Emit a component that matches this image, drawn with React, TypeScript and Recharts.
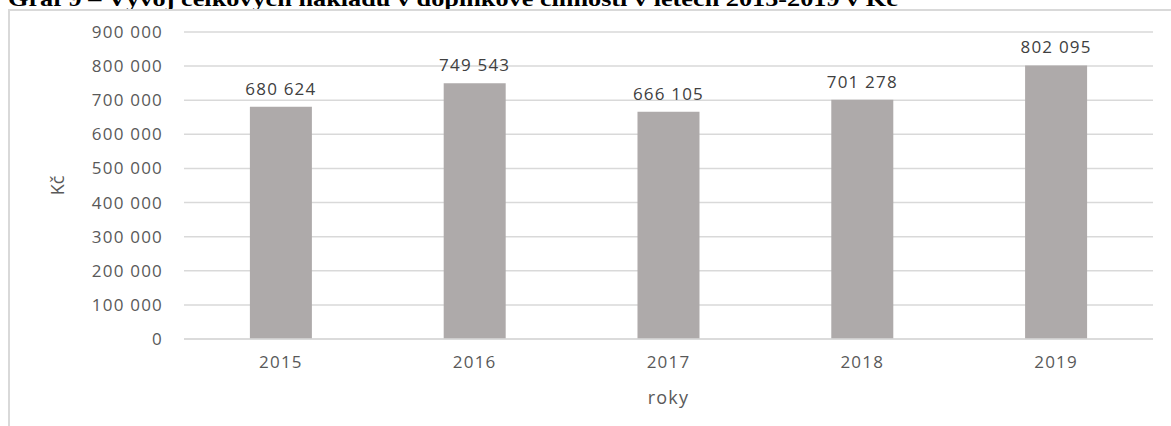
import React from 'react';
import { BarChart, Bar, XAxis, YAxis, CartesianGrid, LabelList } from 'recharts';

const years = ['2015', '2016', '2017', '2018', '2019'];
const costs = [680624, 749543, 666105, 701278, 802095];
const yTicks = [0, 100000, 200000, 300000, 400000, 500000, 600000, 700000, 800000, 900000];
const titleText = 'Graf 9 – Vývoj celkových nákladů v doplňkové činnosti v letech 2015-2019 v Kč';
const yLabel = 'Kč';
const xLabel = 'roky';

const data = years.map((y, i) => ({ year: y, value: costs[i] }));

const fmt = (v: number) => {
  const s = String(Math.round(v));
  return s.replace(/\B(?=(\d{3})+(?!\d))/g, ' ');
};

const FONT = '"Open Sans", sans-serif';

export default function App() {
  return (
    <div
      style={{
        position: 'fixed',
        left: 0,
        top: 0,
        width: 1171,
        height: 426,
        overflow: 'hidden',
        background: '#fff',
      }}
    >
      <div
        style={{
          position: 'absolute',
          left: 8,
          top: -12,
          fontFamily: '"Liberation Serif", "Times New Roman", serif',
          fontWeight: 'bold',
          fontSize: 21,
          whiteSpace: 'nowrap',
          color: '#000',
          lineHeight: '23px',
          transform: 'scaleX(1.25)',
          transformOrigin: 'left top',
        }}
      >
        {titleText}
      </div>
      <div
        style={{
          position: 'absolute',
          left: 8,
          top: 9,
          width: 1300,
          height: 600,
          borderLeft: '2px solid #d9d9d9',
          borderTop: '2px solid #d9d9d9',
        }}
      />
      <div style={{ position: 'absolute', left: 0, top: 0 }}>
        <BarChart
          width={1171}
          height={426}
          data={data}
          margin={{ top: 32, right: 18, bottom: 27, left: 0 }}
          barCategoryGap="34%"
        >
          <CartesianGrid horizontal vertical={false} stroke="#d9d9d9" strokeWidth={1.5} />
          <XAxis
            dataKey="year"
            axisLine={{ stroke: '#d9d9d9', strokeWidth: 1.5 }}
            tickLine={false}
            tickSize={0}
            tickMargin={17}
            height={60}
            tick={{ fill: '#595959', fontSize: 17, fontFamily: FONT, letterSpacing: 1.2 }}
            label={{
              content: (p: any) => {
                const vb = p.viewBox || {};
                return (
                  <text
                    x={vb.x + vb.width / 2}
                    y={vb.y + 65}
                    textAnchor="middle"
                    fill="#595959"
                    fontSize={18}
                    fontFamily={FONT}
                    letterSpacing={1.2}
                  >
                    {xLabel}
                  </text>
                );
              },
            }}
          />
          <YAxis
            width={184}
            domain={[0, 900000]}
            ticks={yTicks}
            interval={0}
            axisLine={false}
            tickLine={false}
            tickSize={0}
            tickMargin={21}
            tickFormatter={fmt}
            tick={{ fill: '#595959', fontSize: 17, fontFamily: FONT, letterSpacing: 1.2 }}
            label={{
              content: (p: any) => {
                const vb = p.viewBox || {};
                const cx = vb.x + 57;
                const cy = vb.y + vb.height / 2;
                return (
                  <text
                    x={cx}
                    y={cy}
                    transform={`rotate(-90 ${cx} ${cy})`}
                    textAnchor="middle"
                    dominantBaseline="central"
                    fill="#595959"
                    fontSize={18}
                    fontFamily={FONT}
                  >
                    {yLabel}
                  </text>
                );
              },
            }}
          />
          <Bar dataKey="value" fill="#aeaaaa" isAnimationActive={false}>
            <LabelList
              dataKey="value"
              position="top"
              offset={12}
              formatter={(v: any) => fmt(Number(v))}
              fill="#404040"
              fontSize={17}
              fontFamily={FONT}
              letterSpacing={1.2}
            />
          </Bar>
        </BarChart>
      </div>
    </div>
  );
}
